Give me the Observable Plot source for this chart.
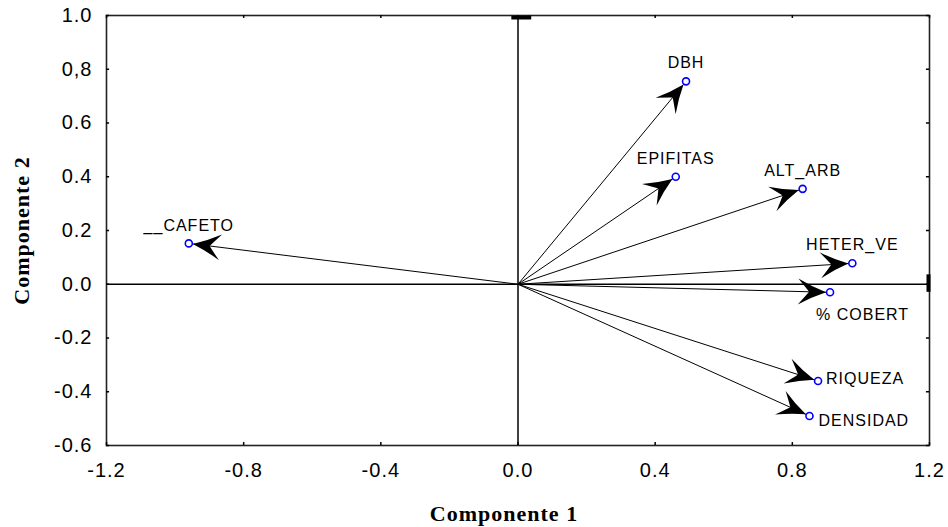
<!DOCTYPE html>
<html>
<head>
<meta charset="utf-8">
<script src="https://cdn.jsdelivr.net/npm/d3@7"></script>
<script src="https://cdn.jsdelivr.net/npm/@observablehq/plot@0.6"></script>
<style>
  html, body { margin: 0; padding: 0; background: #fff; }
</style>
</head>
<body>
<div id="chart"></div>
<script>
// ---- data ----
const variables = ["DBH", "EPIFITAS", "ALT_ARB", "HETER_VE", "% COBERT", "RIQUEZA", "DENSIDAD", "__CAFETO"];
const comp1 = [0.49, 0.46, 0.83, 0.975, 0.91, 0.875, 0.85, -0.96];
const comp2 = [0.755, 0.40, 0.355, 0.078, -0.03, -0.36, -0.49, 0.152];
const xTicks = [-1.2, -0.8, -0.4, 0, 0.4, 0.8, 1.2];
const xTickLabels = ["-1.2", "-0.8", "-0.4", "0.0", "0.4", "0.8", "1.2"];
const yTicks = [-0.6, -0.4, -0.2, 0, 0.2, 0.4, 0.6, 0.8, 1.0];
const yTickLabels = ["-0.6", "-0.4", "-0.2", "0.0", "0.2", "0.4", "0.6", "0,8", "1.0"];
const xTitle = "Componente 1";
const yTitle = "Componente 2";

// ---- build ----
const data = variables.map((name, i) => ({name, x: comp1[i], y: comp2[i]}));
const xMin = xTicks[0], xMax = xTicks[xTicks.length - 1];
const yMin = yTicks[0], yMax = yTicks[yTicks.length - 1];
const labelFor = (ticks, labels) => d => labels[ticks.findIndex(t => Math.abs(t - d) < 1e-9)];

const sans = "'Liberation Sans', Arial, sans-serif";
const serif = "'Liberation Serif', 'Times New Roman', serif";

const above = new Set(["DBH", "EPIFITAS", "ALT_ARB", "HETER_VE", "__CAFETO"]);

const chart = Plot.plot({
  width: 948,
  height: 527,
  marginLeft: 106,
  marginRight: 19,
  marginTop: 15,
  marginBottom: 82,
  style: {fontFamily: sans, fontSize: "20px", letterSpacing: "1px", color: "#000", background: "#fff"},
  x: {domain: [xMin, xMax]},
  y: {domain: [yMin, yMax]},
  marks: [
    Plot.frame({stroke: "#222", strokeWidth: 1.6}),
    // zero lines
    Plot.ruleX([0], {stroke: "#000", strokeWidth: 1.5}),
    Plot.ruleY([0], {stroke: "#000", strokeWidth: 1.5}),
    // end caps of the zero lines
    Plot.ruleY([yMax], {x1: -0.018, x2: 0.04, stroke: "#000", strokeWidth: 4, dy: 2}),
    Plot.ruleX([xMax], {y1: -0.03, y2: 0.035, stroke: "#000", strokeWidth: 4, dx: -1}),
    // inward ticks on all four sides
    Plot.ruleX(xTicks, {x: d => d, y1: yMin, y2: yMin + 0.011, stroke: "#000", strokeWidth: 1.5}),
    Plot.ruleX(xTicks, {x: d => d, y1: yMax, y2: yMax - 0.011, stroke: "#000", strokeWidth: 1.5}),
    Plot.ruleY(yTicks, {y: d => d, x1: xMin, x2: xMin + 0.009, stroke: "#000", strokeWidth: 1.5}),
    Plot.ruleY(yTicks, {y: d => d, x1: xMax, x2: xMax - 0.009, stroke: "#000", strokeWidth: 1.5}),
    // loading arrows
    Plot.link(data, {x1: 0, y1: 0, x2: "x", y2: "y", stroke: "#000", strokeWidth: 1}),
    Plot.dot(data, {x: "x", y: "y", r: 3.5, stroke: "#0000ff", strokeWidth: 1.6, fill: "#fff"}),
    // labels
    Plot.text(data.filter(d => above.has(d.name)), {x: "x", y: "y", text: "name", dy: -18, fontSize: 16, fontFamily: sans, fill: "#000"}),
    Plot.text(data.filter(d => d.name === "% COBERT"), {x: "x", y: "y", text: "name", dx: -14, dy: 23, textAnchor: "start", fontSize: 16, fontFamily: sans, fill: "#000"}),
    Plot.text(data.filter(d => d.name === "RIQUEZA"), {x: "x", y: "y", text: "name", dx: 8, dy: -2, textAnchor: "start", fontSize: 16, fontFamily: sans, fill: "#000"}),
    Plot.text(data.filter(d => d.name === "DENSIDAD"), {x: "x", y: "y", text: "name", dx: 9, dy: 4.5, textAnchor: "start", fontSize: 16, fontFamily: sans, fill: "#000"}),
    // axes
    Plot.axisX(xTicks, {tickFormat: labelFor(xTicks, xTickLabels), tickSize: 0, tickPadding: 17, label: null, fontSize: 20}),
    Plot.axisY(yTicks, {tickFormat: labelFor(yTicks, yTickLabels), tickSize: 0, tickPadding: 14, label: null, fontSize: 20}),
    // axis titles
    Plot.text([xTitle], {text: d => d, frameAnchor: "bottom", textAnchor: "middle", lineAnchor: "middle", dy: 68, dx: -14, fontFamily: serif, fontWeight: "bold", fontSize: 22, fill: "#000"}),
    Plot.text([yTitle], {text: d => d, frameAnchor: "left", textAnchor: "middle", lineAnchor: "middle", dx: -85, rotate: -90, fontFamily: serif, fontWeight: "bold", fontSize: 22, fill: "#000"})
  ]
});

// filled "stealth" arrowheads on the loading lines
const ns = "http://www.w3.org/2000/svg";
const defs = document.createElementNS(ns, "defs");
const marker = document.createElementNS(ns, "marker");
marker.setAttribute("id", "stealth");
marker.setAttribute("viewBox", "-36 -16 38 32");
marker.setAttribute("markerWidth", "38");
marker.setAttribute("markerHeight", "32");
marker.setAttribute("refX", "0");
marker.setAttribute("refY", "0");
marker.setAttribute("orient", "auto");
marker.setAttribute("markerUnits", "userSpaceOnUse");
marker.setAttribute("overflow", "visible");
const head = document.createElementNS(ns, "path");
head.setAttribute("d", "M-4,0 Q-18,-5 -32,-13 Q-25,-5 -21,0 Q-25,5 -32,13 Q-18,5 -4,0 Z");
head.setAttribute("fill", "#000");
marker.appendChild(head);
defs.appendChild(marker);
chart.insertBefore(defs, chart.firstChild);
chart.querySelectorAll('g[aria-label="link"] path').forEach(p => p.setAttribute("marker-end", "url(#stealth)"));

document.getElementById("chart").appendChild(chart);
</script>
</body>
</html>
